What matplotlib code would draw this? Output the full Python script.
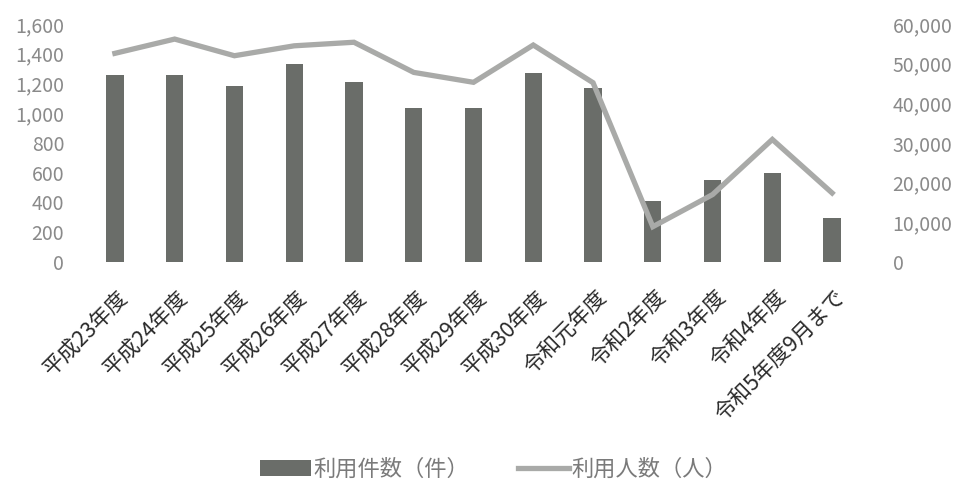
import matplotlib
matplotlib.use("Agg")
import matplotlib.pyplot as plt
from matplotlib.ticker import FuncFormatter, MultipleLocator
from matplotlib.patches import Patch
from matplotlib.lines import Line2D
from matplotlib.transforms import ScaledTranslation

plt.rcParams['font.family'] = ['Noto Sans CJK JP', 'DejaVu Sans']

categories = ["平成23年度", "平成24年度", "平成25年度", "平成26年度", "平成27年度",
              "平成28年度", "平成29年度", "平成30年度", "令和元年度", "令和2年度",
              "令和3年度", "令和4年度", "令和5年度9月まで"]
cases = [1257, 1260, 1183, 1334, 1210, 1037, 1037, 1269, 1170, 407, 549, 596, 295]
people = [52600, 56200, 52000, 54500, 55400, 47800, 45300, 54700, 45200, 8900, 17000, 30900, 17400]

bar_label = "利用件数（件）"
line_label = "利用人数（人）"

bar_color = "#6a6d69"
line_color = "#a9aaa8"
tick_color = "#8a8a8a"

fig = plt.figure(figsize=(9.62, 4.88), dpi=100)
ax = fig.add_axes([85/962, 1-262/488, (862-85)/962, (262-24)/488])
ax2 = ax.twinx()

x = list(range(len(categories)))
ax.bar(x, cases, width=0.29, color=bar_color, zorder=2)
ax2.plot(x, people, color=line_color, linewidth=3.8, solid_joinstyle='miter', zorder=3)

ax.set_xlim(-0.5, len(categories) - 0.5)
ax.set_ylim(0, 1600)
ax2.set_ylim(0, 60000)
ax.yaxis.set_major_locator(MultipleLocator(200))
ax2.yaxis.set_major_locator(MultipleLocator(10000))
fmt = FuncFormatter(lambda v, p: f"{int(v):,}")
ax.yaxis.set_major_formatter(fmt)
ax2.yaxis.set_major_formatter(fmt)

for a in (ax, ax2):
    for s in a.spines.values():
        s.set_visible(False)

ax.tick_params(axis='y', length=0, pad=15, labelsize=14, labelcolor=tick_color)
ax2.tick_params(axis='y', length=0, pad=22, labelsize=14, labelcolor=tick_color)
ax.tick_params(axis='x', length=0, pad=0)
ax.set_xticks(x)
ax.set_xticklabels(categories, rotation=45, ha='right', va='center',
                   rotation_mode='anchor', fontsize=15.5, color='#2a2a2a')
offset = ScaledTranslation(10/100, -32/100, fig.dpi_scale_trans)
for lab in ax.get_xticklabels():
    lab.set_transform(lab.get_transform() + offset)

ax2.set_zorder(ax.get_zorder() + 1)
ax2.patch.set_visible(False)

handles = [Patch(facecolor=bar_color, edgecolor='none'),
           Line2D([0], [0], color=line_color, linewidth=3.8)]
fig.legend(handles, [bar_label, line_label], loc='center', bbox_to_anchor=(0.513, 1-469/488),
           ncol=2, frameon=False, fontsize=16, labelcolor='#7a7a7a',
           handlelength=2.3, handletextpad=0.1, columnspacing=2.2)

fig.savefig("out.png", dpi=100, facecolor='white')
